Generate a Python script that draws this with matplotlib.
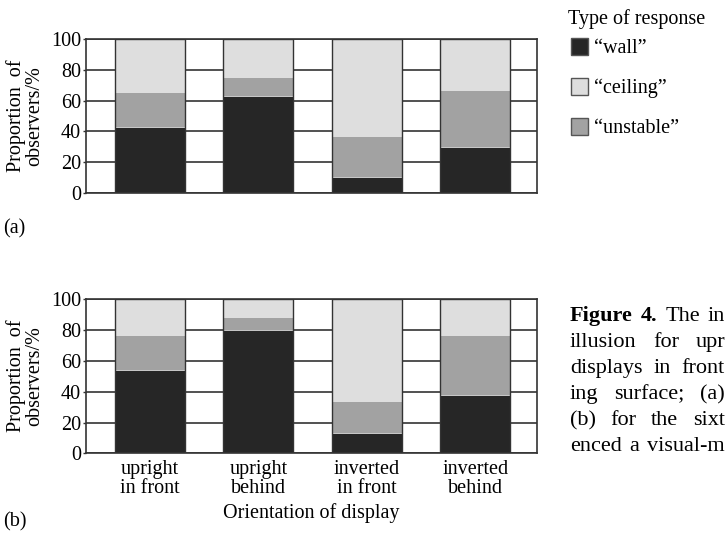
import matplotlib
matplotlib.use("Agg")
import matplotlib.pyplot as plt
from matplotlib.patches import Rectangle

plt.rcParams["font.family"] = ["Liberation Serif", "DejaVu Serif"]

# ---- data -------------------------------------------------------------
orientations = ["upright\nin front", "upright\nbehind",
                "inverted\nin front", "inverted\nbehind"]
response_types = ["\u201cwall\u201d", "\u201cceiling\u201d", "\u201cunstable\u201d"]

# (a) all observers, percentages
wall_a = [43, 63, 10, 30]
unstable_a = [22, 12, 26, 36]
ceiling_a = [35, 25, 64, 34]

# (b) sixteen observers with visual-motor conflict, percentages
wall_b = [54, 80, 13, 38]
unstable_b = [22, 8, 20, 38]
ceiling_b = [24, 12, 67, 24]

y_ticks = [0, 20, 40, 60, 80, 100]

# caption column, as far as it reaches on this page
caption_lines = [
    "Figure 4. The in",
    "illusion for upr",
    "displays in front",
    "ing surface; (a)",
    "(b) for the sixt",
    "enced a visual-m",
]
caption_bold_words = 2  # "Figure 4." is set in bold

# ---- style ------------------------------------------------------------
W_PX, H_PX = 726, 533
WALL_C = "#262626"
CEIL_C = "#dedede"
UNST_C = "#a2a2a2"
LINE_C = "#333333"
BAR_W = 0.645
FS = 14.5

fig = plt.figure(figsize=(W_PX / 100, H_PX / 100), dpi=100)
fig.patch.set_facecolor("white")


def fx(px):
    return px / W_PX


def fy(py):
    return 1 - py / H_PX


def draw_panel(ax, wall, unstable, ceiling, show_x):
    x = list(range(len(orientations)))
    mid = [w + u for w, u in zip(wall, unstable)]
    total = [m + c for m, c in zip(mid, ceiling)]
    ax.bar(x, wall, width=BAR_W, color=WALL_C, edgecolor="#c8c8c8",
           linewidth=0.7, zorder=2)
    ax.bar(x, unstable, bottom=wall, width=BAR_W, color=UNST_C,
           linewidth=0, zorder=2)
    ax.bar(x, ceiling, bottom=mid, width=BAR_W, color=CEIL_C,
           linewidth=0, zorder=2)
    ax.bar(x, total, width=BAR_W, fill=False, edgecolor=LINE_C,
           linewidth=1.0, zorder=3)

    ax.set_xlim(-0.59, 3.57)
    ax.set_ylim(0, 100)
    ax.set_yticks(y_ticks)
    ax.set_yticklabels([str(t) for t in y_ticks], fontsize=FS)
    ax.set_axisbelow(True)
    ax.yaxis.grid(True, color=LINE_C, linewidth=1.2)
    ax.tick_params(axis="y", length=2.5, width=1.0, color=LINE_C, pad=1)
    ax.set_xticks(x)
    if show_x:
        ax.set_xticklabels(orientations, fontsize=FS, linespacing=1.0)
        ax.tick_params(axis="x", length=0, pad=5)
    else:
        ax.set_xticklabels([])
        ax.tick_params(axis="x", length=0)
    for s in ax.spines.values():
        s.set_color(LINE_C)
        s.set_linewidth(1.2)
        s.set_zorder(4)


left, right = fx(86), fx(537)
ax_a = fig.add_axes([left, fy(192.7), right - left, fy(39.3) - fy(192.7)])
ax_b = fig.add_axes([left, fy(453.3), right - left, fy(299.3) - fy(453.3)])
draw_panel(ax_a, wall_a, unstable_a, ceiling_a, show_x=False)
draw_panel(ax_b, wall_b, unstable_b, ceiling_b, show_x=True)

# y-axis labels
for yc in (116, 376):
    fig.text(fx(25), fy(yc), "Proportion  of\nobservers/%", rotation=90,
             ha="center", va="center", fontsize=FS, linespacing=0.95)

fig.text(fx(311.5), fy(513), "Orientation of display", ha="center",
         va="center", fontsize=FS)

fig.text(fx(3), fy(229), "(a)", ha="left", va="center", fontsize=FS)
fig.text(fx(3), fy(522), "(b)", ha="left", va="center", fontsize=FS)

# legend
fig.text(fx(568), fy(24), "Type of response", ha="left", va="baseline",
         fontsize=FS)
sq = 17
legend_colors = [WALL_C, CEIL_C, UNST_C]
for i, (lab, col) in enumerate(zip(response_types, legend_colors)):
    top = 38 + i * 40
    fig.patches.append(Rectangle((fx(571), fy(top + sq)), sq / W_PX, sq / H_PX,
                                 transform=fig.transFigure, facecolor=col,
                                 edgecolor="#555555", linewidth=1.0))
    fig.text(fx(594), fy(top + sq - 2), lab, ha="left", va="baseline",
             fontsize=FS)

# caption: justified column of words
CAP_FS = 16
cap_left, cap_right = 570, 725
base = 321
renderer = fig.canvas.get_renderer()
for i, line in enumerate(caption_lines):
    words = line.split(" ")
    arts = []
    for j, w in enumerate(words):
        bold = (i == 0 and j < caption_bold_words)
        t = fig.text(0, fy(base + 26 * i), w, ha="left", va="baseline",
                     fontsize=CAP_FS, fontweight="bold" if bold else "normal")
        arts.append(t)
    widths = [a.get_window_extent(renderer=renderer).width for a in arts]
    gap = (cap_right - cap_left - sum(widths)) / max(len(words) - 1, 1)
    xpos = cap_left
    for a, wdt in zip(arts, widths):
        a.set_x(fx(xpos))
        xpos += wdt + gap

fig.savefig("out.png", dpi=100)
